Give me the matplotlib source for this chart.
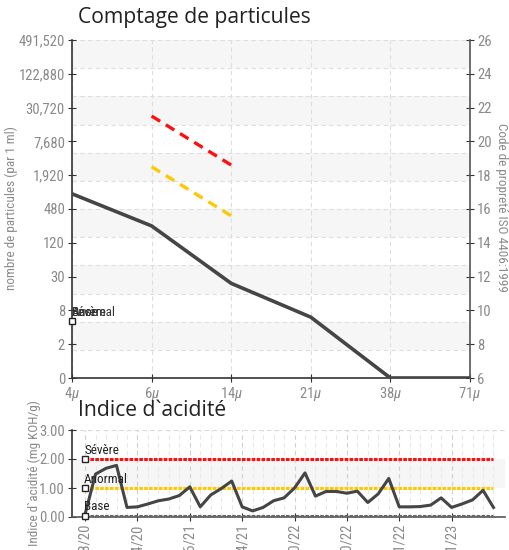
import matplotlib
matplotlib.use("Agg")
import matplotlib.pyplot as plt

# Comptage de particules (valeurs en code ISO 4406)
sizes = ["4$\\mu$", "6$\\mu$", "14$\\mu$", "21$\\mu$", "38$\\mu$", "71$\\mu$"]
iso_codes = [16.9, 15.0, 11.6, 9.6, 6.0, 6.0]
severe_idx = [1, 2]
severe_codes = [21.5, 18.6]
abnormal_codes = [18.5, 15.6]
iso_ticks = [6, 8, 10, 12, 14, 16, 18, 20, 22, 24, 26]
count_labels = ["0", "2", "8", "30", "120", "480", "1,920", "7,680",
                "30,720", "122,880", "491,520"]
limit_names = ["Sévère", "Anormal", "Base"]
marker_code = 9.35

# Indice d'acidité
acid_values = [0.10, 1.48, 1.68, 1.78, 0.33, 0.35, 0.45, 0.56, 0.62, 0.74,
               1.04, 0.35, 0.76, 0.98, 1.24, 0.35, 0.21, 0.33, 0.56, 0.66,
               1.00, 1.52, 0.72, 0.88, 0.88, 0.82, 0.89, 0.50, 0.80, 1.33,
               0.35, 0.35, 0.36, 0.41, 0.66, 0.33, 0.45, 0.59, 0.92, 0.33]
date_ticks = [0, 5, 10, 15, 20, 25, 30, 35]
date_labels = ["08/18/20", "11/24/20", "03/16/21", "07/14/21",
               "01/10/22", "05/20/22", "09/21/22", "01/11/23"]
limit_values = [2.0, 1.0, 0.05]
acid_ticks = [0, 1, 2, 3]

narrow = ["Roboto Condensed", "DejaVu Sans"]
title_font = ["Open Sans", "DejaVu Sans"]
plt.rcParams["mathtext.fontset"] = "custom"
plt.rcParams["mathtext.it"] = "Roboto Condensed:italic"
plt.rcParams["mathtext.rm"] = "Roboto Condensed"
tick_col = "#8a8a8a"
line_col = "#454545"
limit_cols = ["#ff1010", "#ffc800", "#666666"]
grid_ls = (0, (4, 3))

fig = plt.figure(figsize=(5.1, 5.5), dpi=100)

# ---------------- top chart ----------------
ax = fig.add_axes([72 / 510, 1 - 378 / 550, 398 / 510, 338 / 550])
ax.set_xlim(0, 5)
ax.set_ylim(6, 26)
step = 20 / 12
for k in range(12):
    if k % 2 == 1:
        ax.axhspan(6 + k * step, 6 + (k + 1) * step, color="#f6f6f6", zorder=0, lw=0)
for k in range(13):
    ax.axhline(6 + k * step, color="#dedede", lw=0.8, ls=grid_ls, zorder=1)
for i in range(len(sizes)):
    ax.axvline(i, color="#dedede", lw=0.8, ls=grid_ls, zorder=1)

x = list(range(len(sizes)))
ax.plot(x, iso_codes, color=line_col, lw=2.6, zorder=4, solid_joinstyle="round")
ax.plot(severe_idx, severe_codes, color=limit_cols[0], lw=2.4, dashes=(3, 2), zorder=3)
ax.plot(severe_idx, abnormal_codes, color=limit_cols[1], lw=2.4, dashes=(3, 2), zorder=3)
ax.plot([0], [marker_code], marker="s", ms=4.5, mfc="white", mec="#222",
        mew=1, zorder=6, clip_on=False)
for name in limit_names:
    ax.text(0.0, marker_code + 0.12, name, fontsize=9.5, color="#333",
            family=narrow, va="bottom", ha="left", zorder=6)

ax.set_xticks(x)
ax.set_xticklabels(sizes)
ax.set_yticks(iso_ticks)
ax.set_yticklabels(count_labels)
ax.tick_params(direction="inout", length=6, color="#333", labelcolor=tick_col,
               labelsize=10.5, pad=2)
for lab in ax.get_yticklabels() + ax.get_xticklabels():
    lab.set_family(narrow)
ax.spines["top"].set_visible(False)
ax.spines["right"].set_visible(False)
for s in ["left", "bottom"]:
    ax.spines[s].set_color("#333")
    ax.spines[s].set_linewidth(1.2)

ax2 = ax.twinx()
ax2.set_ylim(6, 26)
ax2.set_yticks(iso_ticks)
ax2.tick_params(direction="inout", length=6, color="#333", labelcolor=tick_col,
                labelsize=10.5, pad=2)
for lab in ax2.get_yticklabels():
    lab.set_family(narrow)
for s in ["top", "left", "bottom"]:
    ax2.spines[s].set_visible(False)
ax2.spines["right"].set_color("#555")
ax2.spines["right"].set_linewidth(1.2)

fig.text(11 / 510, 1 - 208 / 550, "nombre de particules (par 1 ml)", color=tick_col,
         fontsize=9.5, family=narrow, rotation=90, ha="center", va="center")
fig.text(502 / 510, 1 - 207 / 550, "Code de propreté ISO 4406:1999", color=tick_col,
         fontsize=9.5, family=narrow, rotation=270, ha="center", va="center")
fig.text(78 / 510, 1 - 18 / 550, "Comptage de particules", fontsize=15.2,
         family=title_font, color="#222", va="center", ha="left")

# ---------------- bottom chart ----------------
bx = fig.add_axes([72 / 510, 1 - 517 / 550, 433 / 510, 87 / 550])
n = len(acid_values)
bx.set_xlim(-1.25, n + 0.1)
bx.set_ylim(0, 3)
bx.axhspan(1, 2, color="#f6f6f6", zorder=0, lw=0)
bx.axhline(3, color="#d8d8d8", lw=0.8, ls=grid_ls, zorder=1)
for i in range(n):
    col = "#d0d0d0" if i in date_ticks else "#e8e8e8"
    bx.axvline(i, color=col, lw=0.8, ls=grid_ls, zorder=1)

xs = list(range(n))
for val, col in zip(limit_values, limit_cols):
    bx.plot([0, n - 1], [val, val], color=col, lw=2.2, dashes=(1.2, 0.4), zorder=3)
bx.plot(xs, acid_values, color=line_col, lw=2.2, zorder=4, solid_joinstyle="round")
for val, name in zip(limit_values, limit_names):
    bx.plot([0], [val], marker="s", ms=4.5, mfc="white", mec="#222", mew=1,
            zorder=6, clip_on=False)
    bx.text(-0.1, val + 0.08, name, fontsize=9.5, color="#222", family=narrow,
            va="bottom", ha="left", zorder=6)

bx.set_yticks(acid_ticks)
bx.set_yticklabels([f"{v:.2f}" for v in acid_ticks])
bx.set_xticks(date_ticks)
bx.set_xticklabels(date_labels, rotation=90)
bx.tick_params(direction="inout", length=6, color="#333", labelcolor=tick_col,
               labelsize=10.5, pad=2)
for lab in bx.get_yticklabels() + bx.get_xticklabels():
    lab.set_family(narrow)
bx.spines["top"].set_visible(False)
bx.spines["right"].set_visible(False)
bx.spines["left"].set_color("#333")
bx.spines["bottom"].set_color("#555")
bx.spines["left"].set_linewidth(1.2)
bx.spines["bottom"].set_linewidth(1.2)

fig.text(34 / 510, 1 - 473 / 550, "Indice d`acidité (mg KOH/g)", color=tick_col,
         fontsize=9.5, family=narrow, rotation=90, ha="center", va="center")
fig.text(78 / 510, 1 - 410 / 550, "Indice d`acidité", fontsize=15.2,
         family=title_font, color="#222", va="center", ha="left")

fig.savefig("out.png", dpi=100)
